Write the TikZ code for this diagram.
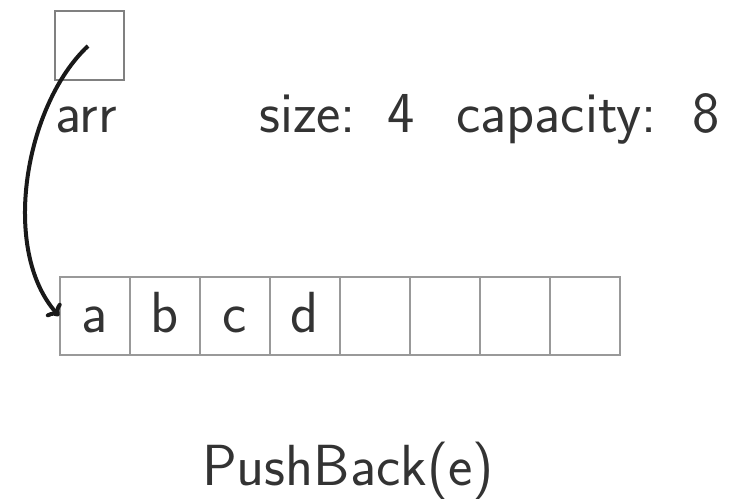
\documentclass[tikz,border=0pt]{standalone}
\usetikzlibrary{arrows.meta}
\begin{document}
\begin{tikzpicture}[x=1pt,y=-1pt,
  txt/.style={inner sep=0pt, text=black!80, font=\fontsize{58}{64}\selectfont\sffamily},
  cell/.style={draw=black!40, line width=1.8pt, minimum width=70pt, minimum height=78pt, inner sep=0pt,
    text height=40pt, text depth=8pt, text=black!80, font=\fontsize{58}{64}\selectfont\sffamily},
  ptrbox/.style={draw=black!50, line width=2.8pt, minimum width=69pt, minimum height=69pt, inner sep=0pt},
  ptr/.style={line width=4pt, black!90, -{To[length=10pt,width=20pt]}}
]
\useasboundingbox (0,0) rectangle (733,498);
\node[ptrbox] (arrbox) at (89.5,45.5) {};
\node[txt, anchor=base west] (arrlbl) at (55,132) {arr};
\node[txt, anchor=base west] (size) at (259,132) {size:\hspace{0.55em}4};
\node[txt, anchor=base west] (cap) at (456,132) {capacity:\hspace{0.62em}8};
\foreach \i/\t in {1/a,2/b,3/c,4/d,5/,6/,7/,8/} {
  \node[cell] (c\i) at (25+70*\i,316) {\t};
}
\coordinate (start) at (88,46);
\draw[ptr] (start) .. controls (25,105) and (0,250) .. (c1.west);
\node[txt, anchor=base] (push) at (348,485) {PushBack(e)};
\end{tikzpicture}
\end{document}
